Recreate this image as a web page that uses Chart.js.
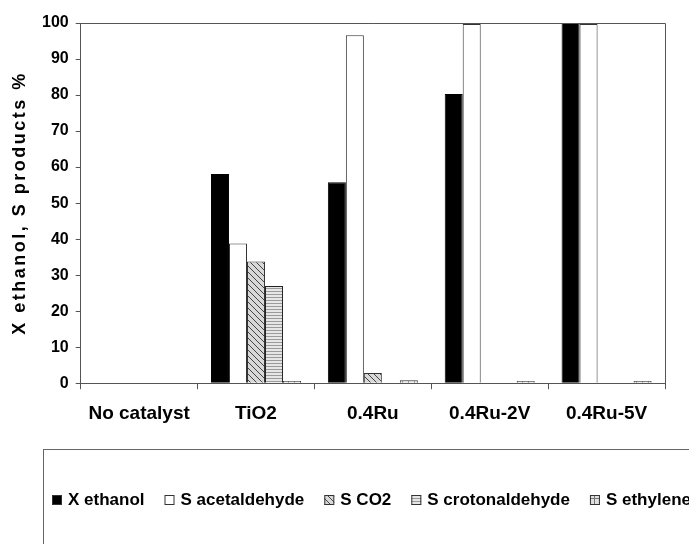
<!DOCTYPE html>
<html>
<head>
<meta charset="utf-8">
<script src="https://cdn.jsdelivr.net/npm/chart.js@4/dist/chart.umd.min.js"></script>
<style>
  html, body { margin: 0; padding: 0; background: #fff; }
  #wrap { width: 689px; height: 544px; position: relative; }
</style>
</head>
<body>
<div id="wrap"><canvas id="myBarChart"></canvas></div>
<script>
// Data
const categories = ['No catalyst', 'TiO2', '0.4Ru', '0.4Ru-2V', '0.4Ru-5V'];
const xEthanol = [0, 58.1, 55.8, 80.3, 100];
const sAcetaldehyde = [0, 38.8, 96.6, 99.7, 99.7];
const sCO2 = [0, 33.8, 2.8, 0, 0];
const sCrotonaldehyde = [0, 27.0, 0, 0, 0];
const sEthylene = [0, 0.6, 0.8, 0.6, 0.6];
const yTicks = [0, 10, 20, 30, 40, 50, 60, 70, 80, 90, 100];
const yTitle = 'X ethanol, S products %';

const axisColor = '#555';
const fontFamily = '"Liberation Sans", Arial, sans-serif';

// Pola arsiran untuk batang
function makePattern(kind) {
  const c = document.createElement('canvas');
  c.width = 6; c.height = 6;
  const g = c.getContext('2d');
  if (kind === 'diag') {
    g.fillStyle = '#d8d8d8';
    g.fillRect(0, 0, 6, 6);
    g.strokeStyle = '#444';
    g.lineWidth = 1;
    g.beginPath();
    g.moveTo(0, 0); g.lineTo(6, 6);
    g.moveTo(-3, 3); g.lineTo(3, 9);
    g.moveTo(3, -3); g.lineTo(9, 3);
    g.stroke();
  } else if (kind === 'horiz') {
    g.fillStyle = '#e6e6e6';
    g.fillRect(0, 0, 6, 6);
    g.fillStyle = '#9a9a9a';
    g.fillRect(0, 0, 6, 1);
    g.fillRect(0, 3, 6, 1);
  } else {
    g.fillStyle = '#e0e0e0';
    g.fillRect(0, 0, 6, 6);
    g.fillStyle = '#777';
    g.fillRect(0, 0, 6, 1);
    g.fillRect(0, 0, 1, 6);
  }
  return g.createPattern(c, 'repeat');
}

const barChartData = {
  labels: categories,
  datasets: [
    { label: 'X ethanol', data: xEthanol, backgroundColor: '#000', borderColor: '#000' },
    { label: 'S acetaldehyde', data: sAcetaldehyde, backgroundColor: '#fff', borderColor: '#333' },
    { label: 'S CO2', data: sCO2, backgroundColor: makePattern('diag'), borderColor: '#333' },
    { label: 'S crotonaldehyde', data: sCrotonaldehyde, backgroundColor: makePattern('horiz'), borderColor: '#222' },
    { label: 'S ethylene', data: sEthylene, backgroundColor: makePattern('grid'), borderColor: '#333' }
  ]
};

// Kotak area plot (garis atas dan kanan) + judul sumbu Y
const frameBox = {
  id: 'frameBox',
  afterDatasetsDraw(chart) {
    const { ctx, chartArea: a } = chart;
    ctx.save();
    ctx.strokeStyle = axisColor;
    ctx.lineWidth = 1;
    ctx.beginPath();
    ctx.moveTo(a.left, a.top + 0.5);
    ctx.lineTo(a.right + 0.5, a.top + 0.5);
    ctx.lineTo(a.right + 0.5, a.bottom);
    ctx.stroke();
    // judul sumbu Y dengan spasi huruf lebar
    ctx.translate(20, (a.top + a.bottom) / 2);
    ctx.rotate(-Math.PI / 2);
    ctx.font = 'bold 18px ' + fontFamily;
    ctx.letterSpacing = '2.5px';
    ctx.fillStyle = '#000';
    ctx.textAlign = 'center';
    ctx.textBaseline = 'middle';
    ctx.fillText(yTitle, 0, 0);
    ctx.restore();
  }
};

// Legenda dalam kotak di bawah
const boxLegend = {
  id: 'boxLegend',
  afterDraw(chart) {
    const ctx = chart.ctx;
    ctx.save();
    ctx.strokeStyle = '#666';
    ctx.lineWidth = 1;
    ctx.strokeRect(43.5, 449.5, 700, 120);
    ctx.font = 'bold 17px ' + fontFamily;
    ctx.textBaseline = 'middle';
    const y = 500;
    let x = 52;
    chart.data.datasets.forEach(ds => {
      ctx.fillStyle = ds.backgroundColor;
      ctx.fillRect(x, y - 5, 10, 10);
      ctx.strokeStyle = '#333';
      ctx.strokeRect(x + 0.5, y - 4.5, 9, 9);
      ctx.fillStyle = '#000';
      ctx.fillText(ds.label, x + 16, y);
      x += 16 + ctx.measureText(ds.label).width + 20;
    });
    ctx.restore();
  }
};

const ctxBar = document.getElementById('myBarChart').getContext('2d');
const myBarChart = new Chart(ctxBar, {
  type: 'bar',
  data: barChartData,
  options: {
    responsive: true,
    maintainAspectRatio: false,
    animation: false,
    layout: { padding: { top: 23, right: 24, bottom: 106, left: 35 } },
    datasets: {
      bar: { borderWidth: 1, barPercentage: 1, categoryPercentage: 0.77 }
    },
    plugins: {
      legend: { display: false },
      tooltip: { enabled: false }
    },
    scales: {
      x: {
        grid: { drawOnChartArea: false, drawTicks: true, tickLength: 6, color: axisColor, offset: true },
        border: { color: axisColor },
        ticks: { color: '#000', padding: 13, maxRotation: 0, font: { family: fontFamily, size: 19, weight: 'bold' } }
      },
      y: {
        min: 0,
        max: 100,
        afterBuildTicks: axis => { axis.ticks = yTicks.map(v => ({ value: v })); },
        grid: { drawOnChartArea: false, drawTicks: true, tickLength: 5, color: axisColor },
        border: { color: axisColor },
        ticks: { color: '#000', padding: 7, font: { family: fontFamily, size: 16, weight: 'bold' } }
      }
    }
  },
  plugins: [frameBox, boxLegend]
});
</script>
</body>
</html>
